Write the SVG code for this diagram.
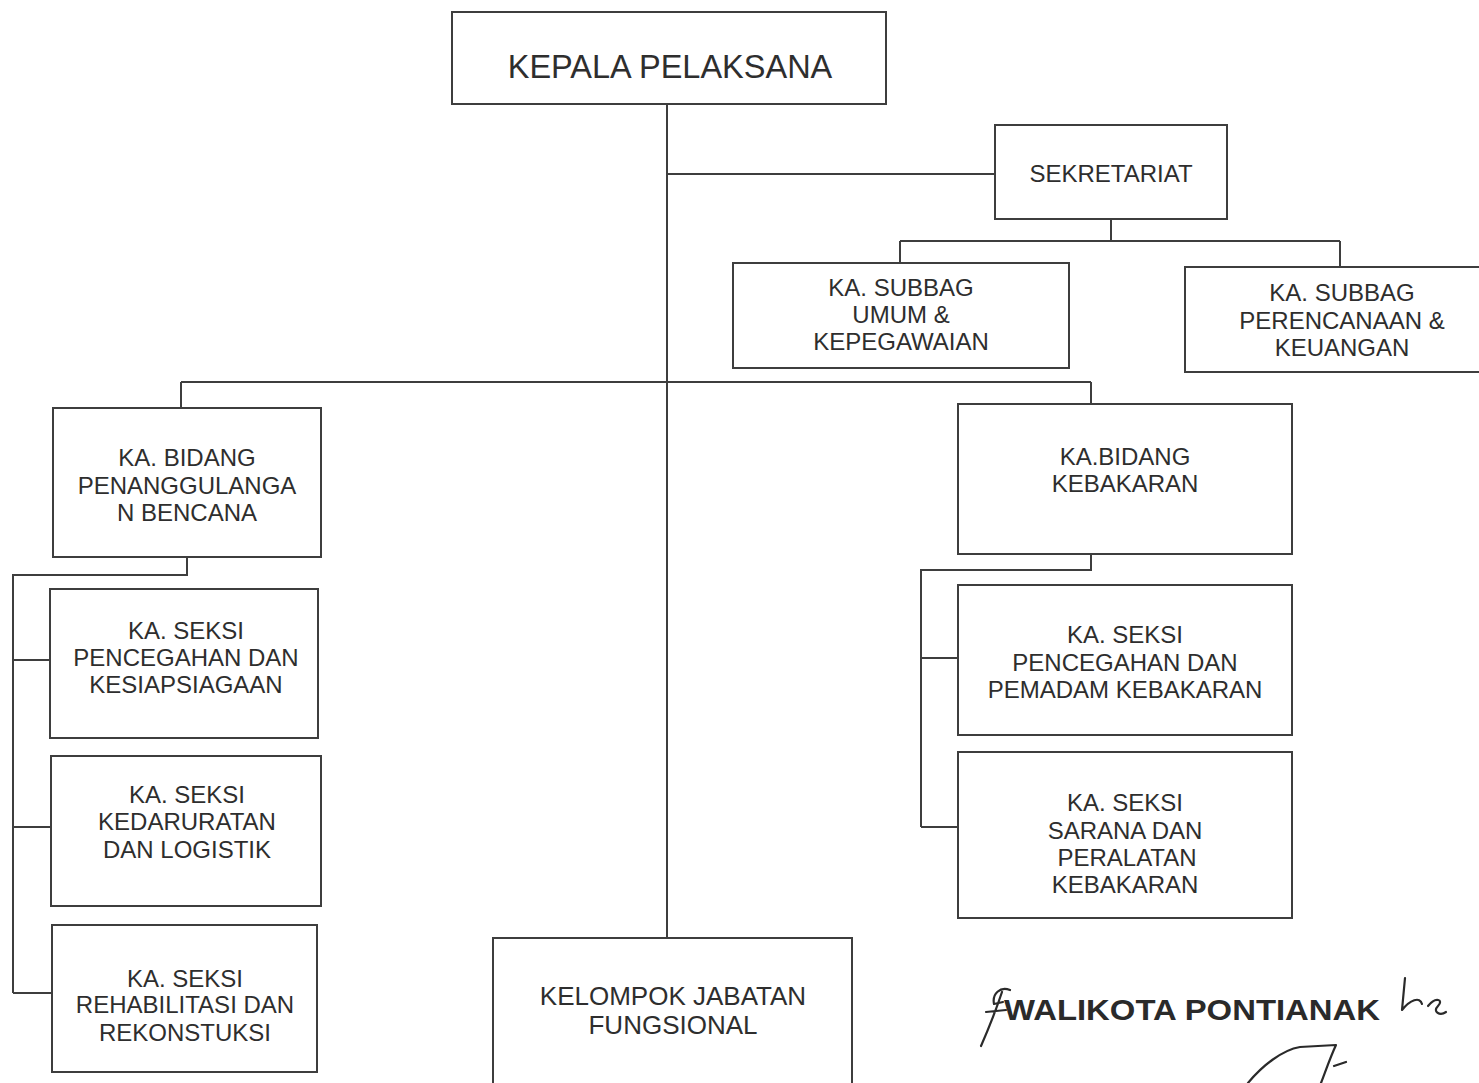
<svg xmlns="http://www.w3.org/2000/svg" width="1479" height="1083" viewBox="0 0 1479 1083">
  <style>
    .box { fill: #ffffff; stroke: #3e3e3e; stroke-width: 2; }
    .wire { fill: none; stroke: #3e3e3e; stroke-width: 2; }
    .lbl { font-family: "Liberation Sans", Arial, sans-serif; font-size: 24px; fill: #2e2e2e; text-anchor: middle; }
    .big { font-size: 32.5px; }
    .mid { font-size: 26px; }
    .sign { font-family: "Liberation Sans", Arial, sans-serif; font-size: 30px; font-weight: bold; fill: #2a2a2a; }
    .pen { fill: none; stroke: #2a2a2a; stroke-width: 2.2; stroke-linecap: round; stroke-linejoin: round; }
  </style>
  <rect width="1479" height="1083" fill="#ffffff"/>

  <!-- connectors -->
  <g id="connectors">
    <!-- trunk from the head down to the functional group -->
    <path class="wire" d="M667 104 V938"/>
    <!-- secretariat branch -->
    <path class="wire" d="M667 174 H995"/>
    <path class="wire" d="M1111 219 V241 M900 241 H1340 M900 241 V263 M1340 241 V267"/>
    <!-- field branches -->
    <path class="wire" d="M181 382 H1091 M181 382 V408 M1091 382 V404"/>
    <!-- left field sections -->
    <path class="wire" d="M187 557 V575 H13 V993 M13 660 H50 M13 827 H51 M13 993 H52"/>
    <!-- right field sections -->
    <path class="wire" d="M1091 554 V570 H921 V827 M921 658 H958 M921 827 H958"/>
  </g>

  <g id="kepala-pelaksana">
    <rect class="box" x="452" y="12" width="434" height="92"/>
    <text class="lbl big" x="670" y="78">KEPALA PELAKSANA</text>
  </g>

  <g id="sekretariat">
    <rect class="box" x="995" y="125" width="232" height="94"/>
    <text class="lbl" x="1111" y="182">SEKRETARIAT</text>
  </g>

  <g id="subbag-umum">
    <rect class="box" x="733" y="263" width="336" height="105"/>
    <text class="lbl" x="901" y="296">KA. SUBBAG</text>
    <text class="lbl" x="901" y="323">UMUM &amp;</text>
    <text class="lbl" x="901" y="350">KEPEGAWAIAN</text>
  </g>

  <g id="subbag-perencanaan">
    <rect class="box" x="1185" y="267" width="300" height="105"/>
    <text class="lbl" x="1342" y="301">KA. SUBBAG</text>
    <text class="lbl" x="1342" y="329">PERENCANAAN &amp;</text>
    <text class="lbl" x="1342" y="356">KEUANGAN</text>
  </g>

  <g id="bidang-penanggulangan">
    <rect class="box" x="53" y="408" width="268" height="149"/>
    <text class="lbl" x="187" y="466">KA. BIDANG</text>
    <text class="lbl" x="187" y="494">PENANGGULANGA</text>
    <text class="lbl" x="187" y="521">N BENCANA</text>
  </g>

  <g id="seksi-pencegahan-kesiapsiagaan">
    <rect class="box" x="50" y="589" width="268" height="149"/>
    <text class="lbl" x="186" y="639">KA. SEKSI</text>
    <text class="lbl" x="186" y="666">PENCEGAHAN DAN</text>
    <text class="lbl" x="186" y="693">KESIAPSIAGAAN</text>
  </g>

  <g id="seksi-kedaruratan">
    <rect class="box" x="51" y="756" width="270" height="150"/>
    <text class="lbl" x="187" y="803">KA. SEKSI</text>
    <text class="lbl" x="187" y="830">KEDARURATAN</text>
    <text class="lbl" x="187" y="858">DAN LOGISTIK</text>
  </g>

  <g id="seksi-rehabilitasi">
    <rect class="box" x="52" y="925" width="265" height="147"/>
    <text class="lbl" x="185" y="987">KA. SEKSI</text>
    <text class="lbl" x="185" y="1013">REHABILITASI DAN</text>
    <text class="lbl" x="185" y="1041">REKONSTUKSI</text>
  </g>

  <g id="bidang-kebakaran">
    <rect class="box" x="958" y="404" width="334" height="150"/>
    <text class="lbl" x="1125" y="465">KA.BIDANG</text>
    <text class="lbl" x="1125" y="492">KEBAKARAN</text>
  </g>

  <g id="seksi-pemadam">
    <rect class="box" x="958" y="585" width="334" height="150"/>
    <text class="lbl" x="1125" y="643">KA. SEKSI</text>
    <text class="lbl" x="1125" y="671">PENCEGAHAN DAN</text>
    <text class="lbl" x="1125" y="698">PEMADAM KEBAKARAN</text>
  </g>

  <g id="seksi-sarana">
    <rect class="box" x="958" y="752" width="334" height="166"/>
    <text class="lbl" x="1125" y="811">KA. SEKSI</text>
    <text class="lbl" x="1125" y="839">SARANA DAN</text>
    <text class="lbl" x="1127" y="866">PERALATAN</text>
    <text class="lbl" x="1125" y="893">KEBAKARAN</text>
  </g>

  <g id="kelompok-jabatan-fungsional">
    <rect class="box" x="493" y="938" width="359" height="150"/>
    <text class="lbl mid" x="673" y="1005">KELOMPOK JABATAN</text>
    <text class="lbl mid" x="673" y="1034">FUNGSIONAL</text>
  </g>

  <!-- endorsement with handwritten initials -->
  <g id="pengesahan">
    <text class="sign" x="1004" y="1020" textLength="376" lengthAdjust="spacingAndGlyphs">WALIKOTA PONTIANAK</text>
    <path class="pen" d="M1010 990 C1000 986 992 994 994 1004 L1003 1002 M1002 992 C996 1010 988 1030 981 1046 M986 1012 L1006 1010"/>
    <path class="pen" d="M1405 978 L1402 1010 C1410 1000 1420 996 1422 1004 M1428 1006 C1436 996 1444 1000 1438 1006 C1432 1012 1440 1016 1446 1012"/>
    <path class="pen" d="M1248 1083 C1262 1066 1282 1050 1300 1047 L1336 1045 C1330 1058 1326 1070 1321 1083 M1334 1066 L1346 1062"/>
  </g>
</svg>
